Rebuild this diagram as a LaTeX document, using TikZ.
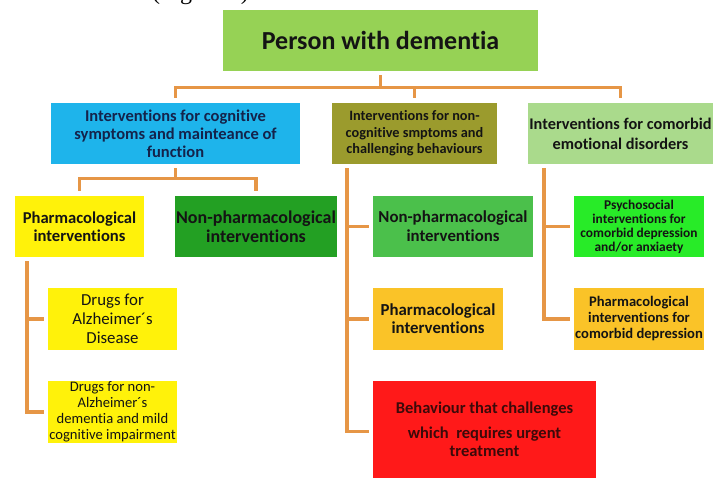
\documentclass[tikz,border=0pt]{standalone}
\usepackage{fontspec}
\setmainfont{Carlito}[Ligatures={NoCommon}]
\newfontfamily\figserif{Liberation Serif}
\definecolor{topg}{RGB}{150,210,85}
\definecolor{bluec}{RGB}{30,180,235}
\definecolor{olivec}{RGB}{155,155,45}
\definecolor{lgreenc}{RGB}{170,218,140}
\definecolor{yel}{RGB}{255,242,10}
\definecolor{dgreen}{RGB}{35,160,35}
\definecolor{mgreen}{RGB}{75,192,75}
\definecolor{bgreen}{RGB}{40,235,40}
\definecolor{amber}{RGB}{250,195,40}
\definecolor{redc}{RGB}{255,25,25}
\definecolor{linec}{RGB}{230,150,70}
\definecolor{navy}{RGB}{20,35,75}
\definecolor{ink}{RGB}{20,20,20}
\definecolor{redink}{RGB}{60,10,10}
\newcommand{\fs}[2]{\fontsize{#1}{#2}\selectfont}
\begin{document}
\begin{tikzpicture}[x=1pt,y=-1pt,
  box/.style={inner sep=0pt, outer sep=4.5pt, align=center, text=ink},
  conn/.style={draw=linec, line width=3.2pt, line join=miter}]
\useasboundingbox (0,0) rectangle (725,478);
\fill[white] (0,0) rectangle (725,478);
\begin{scope}
\clip (0,0) rectangle (725,478);
\node[anchor=base west, inner sep=0pt, font=\figserif\fs{24}{24}] (fig) at (152,0) {(Figure 1)};
\end{scope}
% boxes
\node[box, fill=topg, minimum width=315pt, minimum height=61pt, font=\bfseries\fs{26}{30}] (top) at (380.5,40.5) {Person with dementia};
\node[box, fill=bluec, text=navy, minimum width=249pt, minimum height=61pt, font=\bfseries\fs{16.5}{18}] (blue) at (175.5,133.5) {Interventions for cognitive\\symptoms and mainteance of\\function};
\node[box, fill=olivec, minimum width=165pt, minimum height=61pt, font=\bfseries\fs{14.3}{16.5}] (olive) at (414.5,133.5) {Interventions for non-\\cognitive smptoms and\\challenging behaviours};
\node[box, fill=lgreenc, minimum width=185pt, minimum height=61pt, font=\bfseries\fs{16.3}{20}] (lgreen) at (620.5,133.5) {Interventions for comorbid\\emotional disorders};
\node[box, fill=yel, minimum width=129pt, minimum height=61pt, font=\bfseries\fs{16.6}{18}] (pharmL) at (79.5,226.5) {Pharmacological\\interventions};
\node[box, fill=dgreen, minimum width=162pt, minimum height=61pt, font=\bfseries\fs{18}{19}] (nonpharmL) at (256,226.5) {Non-pharmacological\\interventions};
\node[box, fill=yel, minimum width=129pt, minimum height=62pt, font=\fs{16.8}{18.7}] (drugsAD) at (112.5,319) {Drugs for\\Alzheimer´s\\Disease};
\node[box, fill=yel, minimum width=129pt, minimum height=62pt, font=\fs{14.6}{16}] (drugsNon) at (112.5,412) {Drugs for non-\\Alzheimer´s\\dementia and mild\\cognitive impairment};
\node[box, fill=mgreen, minimum width=160pt, minimum height=61pt, font=\bfseries\fs{16.8}{19}] (nonpharmM) at (453,226.5) {Non-pharmacological\\interventions};
\node[box, fill=amber, minimum width=130pt, minimum height=62pt, font=\bfseries\fs{16.8}{18}] (pharmM) at (438,319) {Pharmacological\\interventions};
\node[box, fill=redc, text=redink, minimum width=223pt, minimum height=97pt, font=\bfseries\fs{16.5}{18}] (red) at (484.5,429.5) {Behaviour that challenges\\[7pt]which\ \ requires urgent\\treatment};
\node[box, fill=bgreen, minimum width=130pt, minimum height=61pt, font=\bfseries\fs{13.4}{14}] (psycho) at (639,226.5) {Psychosocial\\interventions for\\comorbid depression\\and/or anxiaety};
\node[box, fill=amber, minimum width=130pt, minimum height=62pt, font=\bfseries\fs{14.6}{16}] (pharmR) at (639,319) {Pharmacological\\interventions for\\comorbid depression};
% connectors
\draw[conn] (top.south) -- ++(0,12) coordinate (hub) -| (blue.north);
\draw[conn] (hub) -| (olive.north);
\draw[conn] (hub) -| (lgreen.north);
\draw[conn] (blue.south) -- ++(0,10) coordinate (hubL) -| (pharmL.north);
\draw[conn] (hubL) -| (nonpharmL.north);
\coordinate (tL) at (27,0);
\coordinate (tM) at (347,0);
\coordinate (tR) at (544,0);
\draw[conn] (tL |- pharmL.south) |- (drugsAD.west);
\draw[conn] (tL |- pharmL.south) |- (drugsNon.west);
\draw[conn] (tM |- olive.south) |- (nonpharmM.west);
\draw[conn] (tM |- olive.south) |- (pharmM.west);
\draw[conn] (tM |- olive.south) |- ([yshift=-2pt]red.west);
\draw[conn] (tR |- lgreen.south) |- (psycho.west);
\draw[conn] (tR |- lgreen.south) |- (pharmR.west);
\end{tikzpicture}
\end{document}
